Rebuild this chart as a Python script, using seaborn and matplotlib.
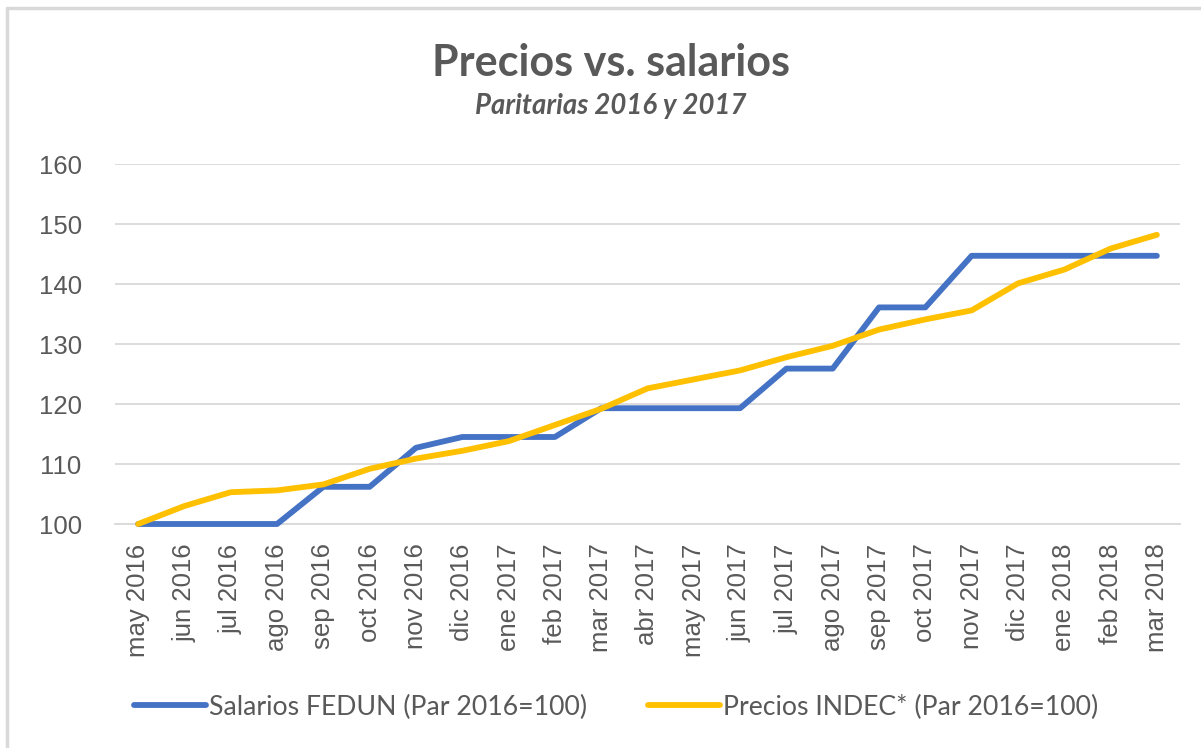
import matplotlib
matplotlib.use('Agg')
import matplotlib.pyplot as plt
import pandas as pd
import seaborn as sns
from matplotlib.lines import Line2D

# Data
meses = ['may 2016', 'jun 2016', 'jul 2016', 'ago 2016', 'sep 2016', 'oct 2016',
         'nov 2016', 'dic 2016', 'ene 2017', 'feb 2017', 'mar 2017', 'abr 2017',
         'may 2017', 'jun 2017', 'jul 2017', 'ago 2017', 'sep 2017', 'oct 2017',
         'nov 2017', 'dic 2017', 'ene 2018', 'feb 2018', 'mar 2018']
salarios = [100, 100, 100, 100, 106.2, 106.2, 112.7, 114.5, 114.5, 114.5, 119.3, 119.3,
            119.3, 119.3, 125.9, 125.9, 136.1, 136.1, 144.7, 144.7, 144.7, 144.7, 144.7]
precios = [100, 103.0, 105.3, 105.6, 106.6, 109.2, 110.9, 112.2, 113.8, 116.5, 119.2, 122.6,
           124.1, 125.6, 127.8, 129.7, 132.4, 134.1, 135.6, 140.1, 142.4, 145.9, 148.2]
series_names = ['Salarios FEDUN (Par 2016=100)', 'Precios INDEC* (Par 2016=100)']
colors = ['#4472C4', '#FFC000']

df = pd.DataFrame({'pos': list(range(len(meses))) * 2,
                   'valor': salarios + precios,
                   'serie': [series_names[0]] * len(meses) + [series_names[1]] * len(meses)})

sns.set_style('white')
grey = '#595959'
grid = '#D9D9D9'

fig = plt.figure(figsize=(12.01, 7.48), dpi=100)
ax = fig.add_axes([115 / 1201, 1 - 524 / 748, (1180 - 115) / 1201, (524 - 164) / 748])

sns.lineplot(data=df, x='pos', y='valor', hue='serie', palette=colors,
             linewidth=4.2, ax=ax, legend=False, sort=False)
for ln in ax.lines:
    ln.set_solid_capstyle('round')
    ln.set_solid_joinstyle('round')
    ln.set_clip_on(False)

ax.set_xlim(-0.5, len(meses) - 0.5)
ax.set_ylim(100, 160)
ax.set_yticks(range(100, 161, 10))
ax.yaxis.grid(True, color=grid, linewidth=1.3)
ax.set_axisbelow(True)
for s in ['top', 'right', 'left']:
    ax.spines[s].set_visible(False)
ax.spines['bottom'].set_color(grid)
ax.spines['bottom'].set_linewidth(1.3)
ax.spines['bottom'].set_zorder(0.5)

ax.set_xticks(range(len(meses)))
ax.set_xticklabels(meses, rotation=90, fontsize=18.5, color=grey, family='Liberation Sans')
ax.set_xticks([i - 0.5 for i in range(len(meses) + 1)], minor=True)
ax.tick_params(axis='x', which='major', length=0, pad=14)
ax.tick_params(axis='x', which='minor', length=7, color=grid, width=1.3, direction='out')
ax.tick_params(axis='y', length=0, pad=24, labelsize=18.5, labelcolor=grey)
for t in ax.get_yticklabels():
    t.set_family('Liberation Sans')
ax.set_xlabel('')
ax.set_ylabel('')

fig.text(0.5086, 1 - 63 / 748, 'Precios vs. salarios', ha='center', va='center',
         fontsize=31, fontweight='bold', color=grey, family='Lato')
fig.text(0.5086, 1 - 106 / 748, 'Paritarias 2016 y 2017', ha='center', va='center',
         fontsize=19.8, fontweight='bold', style='italic', color=grey, family='Lato')

handles = [Line2D([0], [0], color=c, linewidth=4.2, solid_capstyle='round') for c in colors]
fig.legend(handles, series_names, loc='center', bbox_to_anchor=(0.513, 1 - 707 / 748),
           ncol=2, frameon=False, handlelength=2.7, handletextpad=0.1, columnspacing=2.3,
           prop={'family': 'Lato', 'size': 19.2}, labelcolor=grey)

# chart border (top and left edges visible)
fig.add_artist(Line2D([7 / 1201, 1], [1 - 8 / 748, 1 - 8 / 748], color=grid, linewidth=2.5,
                      transform=fig.transFigure))
fig.add_artist(Line2D([7 / 1201, 7 / 1201], [0, 1 - 8 / 748], color=grid, linewidth=2.5,
                      transform=fig.transFigure))

fig.savefig('out.png', dpi=100)
